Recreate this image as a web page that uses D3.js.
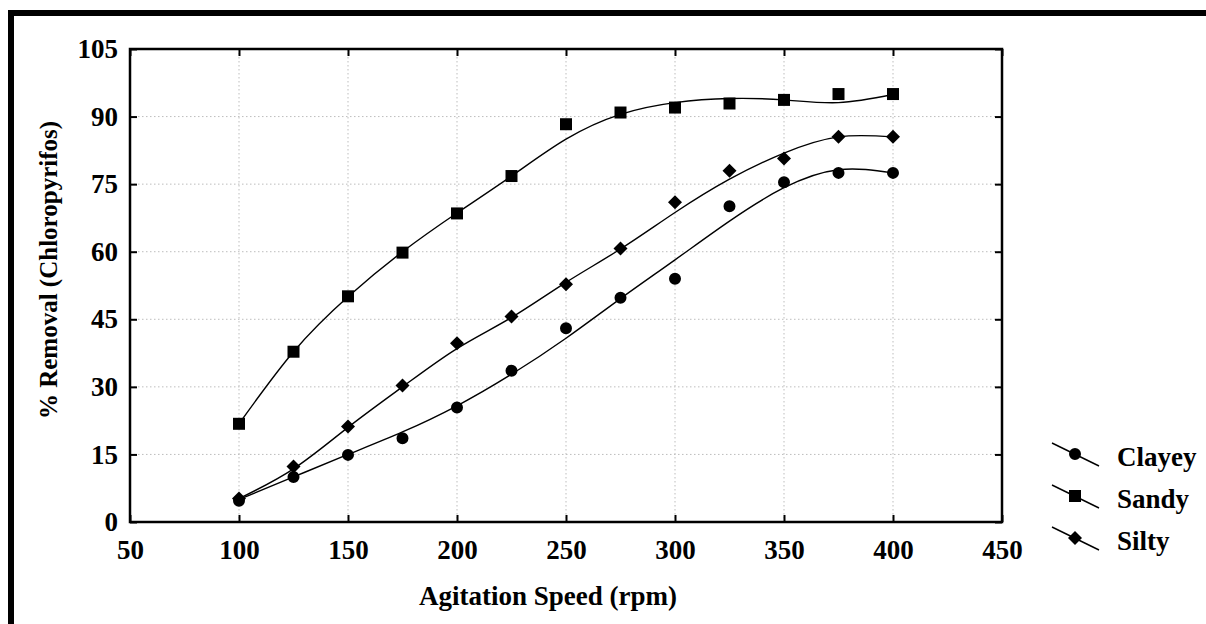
<!DOCTYPE html>
<html>
<head>
<meta charset="utf-8">
<script src="https://cdn.jsdelivr.net/npm/d3@7"></script>
<style>
  body { margin: 0; background: #fff; }
  svg text { font-family: "Liberation Serif", "Tinos", "Times New Roman", "DejaVu Serif", serif !important; font-weight: bold; fill: #000; }
</style>
</head>
<body>
<svg id="chart" width="1206" height="624"></svg>
<script>
// data
const speeds = [100, 125, 150, 175, 200, 225, 250, 275, 300, 325, 350, 375, 400]
const clayey = [4.7, 10.0, 14.9, 18.6, 25.4, 33.6, 43.0, 49.8, 54.0, 70.1, 75.4, 77.5, 77.5]
const sandy  = [21.8, 37.8, 50.1, 59.8, 68.5, 76.8, 88.3, 90.9, 92.0, 92.9, 93.7, 95.0, 95.0]
const silty  = [5.2, 12.3, 21.2, 30.3, 39.7, 45.6, 52.8, 60.7, 71.0, 78.0, 80.7, 85.5, 85.5]
// fitted curves, read at the same speeds
const clayeyFit = [5.0, 10.0, 15.0, 20.0, 25.8, 32.8, 40.8, 49.6, 58.2, 66.8, 74.2, 78.2, 77.5]
const sandyFit  = [21.8, 37.8, 50.0, 60.0, 68.6, 76.8, 85.0, 90.5, 93.1, 94.0, 93.7, 93.1, 94.9]
const siltyFit  = [5.2, 11.8, 21.0, 30.0, 38.5, 45.4, 53.2, 60.6, 68.7, 76.1, 81.9, 85.5, 85.5]

const seriesNames = ["Clayey", "Sandy", "Silty"]
const xTicks = [50, 100, 150, 200, 250, 300, 350, 400, 450]
const yTicks = [0, 15, 30, 45, 60, 75, 90, 105]

const FONT = '"Liberation Serif", Tinos, "Times New Roman", "DejaVu Serif", serif'
const svg = d3.select("#chart")
const L = 130, R = 1002, T = 49, B = 522

let x = d3.scaleLinear().domain([50, 450]).range([L, R])
let y = d3.scaleLinear().domain([0, 105]).range([B, T])

// outer frame (only top & left show)
svg.append("rect").attr("x", 11).attr("y", 13).attr("width", 1400).attr("height", 800)
    .attr("fill", "none").attr("stroke", "#000").attr("stroke-width", 6)

// grid
let grid = svg.append("g").attr("stroke", "#bdbdbd").attr("stroke-width", 1).attr("stroke-dasharray", "1.5,2.5")
grid.selectAll(".gx").data(xTicks.slice(1, -1)).enter().append("line")
    .attr("x1", d => x(d)).attr("x2", d => x(d)).attr("y1", T).attr("y2", B)
grid.selectAll(".gy").data(yTicks.slice(1, -1)).enter().append("line")
    .attr("y1", d => y(d)).attr("y2", d => y(d)).attr("x1", L).attr("x2", R)

// axes, ticks pointing inwards
function styleAxis(g) {
    g.attr("font-family", FONT).attr("font-size", 27).attr("font-weight", "bold")
    g.select(".domain").remove()
    g.selectAll(".tick line").attr("stroke", "#000").attr("stroke-width", 2)
}
svg.append("g").attr("transform", `translate(0,${B})`)
    .call(d3.axisBottom(x).tickValues(xTicks).tickSizeInner(-7).tickSizeOuter(0).tickPadding(18))
    .call(styleAxis)
svg.append("g").attr("transform", `translate(${L},0)`)
    .call(d3.axisLeft(y).tickValues(yTicks).tickSizeInner(-7).tickSizeOuter(0).tickPadding(12))
    .call(styleAxis)
svg.append("g").attr("transform", `translate(0,${T})`)
    .call(d3.axisTop(x).tickValues(xTicks).tickSizeInner(-7).tickSizeOuter(0).tickFormat(""))
    .call(styleAxis)
svg.append("g").attr("transform", `translate(${R},0)`)
    .call(d3.axisRight(y).tickValues(yTicks).tickSizeInner(-7).tickSizeOuter(0).tickFormat(""))
    .call(styleAxis)

svg.append("rect").attr("x", L).attr("y", T).attr("width", R - L).attr("height", B - T)
    .attr("fill", "none").attr("stroke", "#000").attr("stroke-width", 2.5)

// markers
const diamond = {
    draw(ctx, size) {
        const r = Math.sqrt(size / 2)
        ctx.moveTo(0, -r); ctx.lineTo(r, 0); ctx.lineTo(0, r); ctx.lineTo(-r, 0); ctx.closePath()
    }
}
const symbols = {
    Clayey: d3.symbol().type(d3.symbolCircle).size(113),
    Sandy: d3.symbol().type(d3.symbolSquare).size(144),
    Silty: d3.symbol().type(diamond).size(98)
}
const values = { Clayey: clayey, Sandy: sandy, Silty: silty }
const fits = { Clayey: clayeyFit, Sandy: sandyFit, Silty: siltyFit }

let line = d3.line().x((d, i) => x(speeds[i])).y(d => y(d)).curve(d3.curveNatural)

seriesNames.forEach(name => {
    svg.append("path").datum(fits[name]).attr("d", line)
        .attr("fill", "none").attr("stroke", "#000").attr("stroke-width", 1.4)
    svg.selectAll(`.m_${name}`).data(values[name]).enter().append("path")
        .attr("class", `m_${name}`)
        .attr("transform", (d, i) => `translate(${x(speeds[i])},${y(d)})`)
        .attr("d", symbols[name]())
        .attr("fill", "#000")
})

// axis labels
svg.append("text").attr("x", 548).attr("y", 605).attr("text-anchor", "middle")
    .attr("font-family", FONT).attr("font-size", 27).text("Agitation Speed (rpm)")
svg.append("text").attr("transform", "translate(57,270) rotate(-90)").attr("text-anchor", "middle")
    .attr("font-family", FONT).attr("font-size", 25).text("% Removal (Chloropyrifos)")

// legend
let legend = svg.selectAll(".legend").data(seriesNames).enter().append("g")
    .attr("transform", (d, i) => `translate(0,${i * 42})`)
legend.append("line").attr("x1", 1052).attr("y1", 443).attr("x2", 1099).attr("y2", 466)
    .attr("stroke", "#000").attr("stroke-width", 1.4)
legend.append("path").attr("transform", "translate(1075,454)")
    .attr("d", d => symbols[d]()).attr("fill", "#000")
legend.append("text").attr("x", 1117).attr("y", 466)
    .attr("font-family", FONT).attr("font-size", 27).text(d => d)
</script>
</body>
</html>
